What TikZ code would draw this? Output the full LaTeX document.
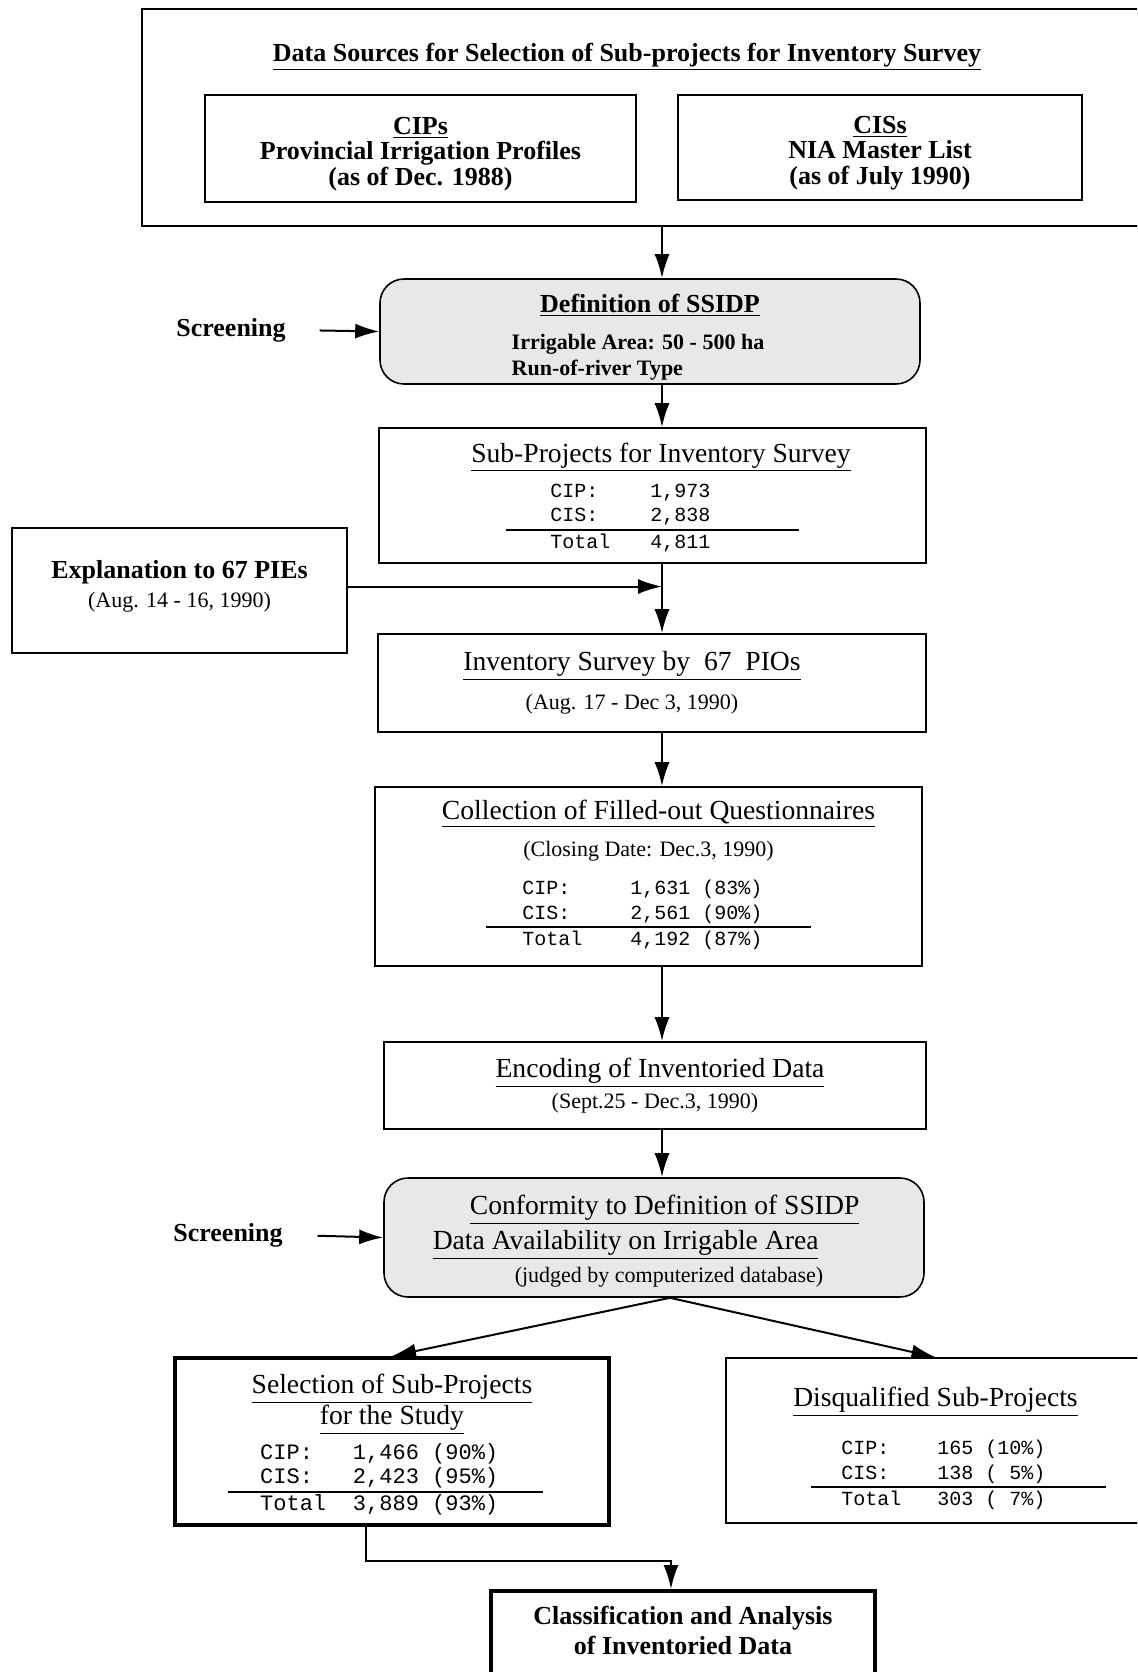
\documentclass[tikz,border=0pt]{standalone}
\usepackage{fontspec}
\setmainfont{Liberation Serif}
\setmonofont{Liberation Mono}
\usetikzlibrary{arrows.meta}
\setlength{\arrayrulewidth}{1pt}
\newcommand{\headfont}{\fontsize{13}{15}\selectfont}
\newcommand{\titlefont}{\fontsize{13.8}{15}\selectfont}
\newcommand{\subfont}{\fontsize{11}{13}\selectfont}
\newcommand{\topstrut}[1]{\rule{0pt}{#1}}
\newcommand{\botstrut}[1]{\rule[-#1]{0pt}{0pt}}
% CIP / CIS / Total counts: [font size], values, then left pad, column gap, right pad
\newcommand{\counttable}[7][10]{{\fontsize{#1}{12.3}\selectfont\ttfamily\begin{tabular}[t]{@{\hspace{#5}}l@{\hspace{#6}}l@{\hspace{#7}}}CIP: & #2\\CIS: & #3\\\hline Total & #4\end{tabular}}}

\begin{document}
\begin{tikzpicture}[x=0.5pt,y=-0.5pt,
  box/.style={draw,line width=0.8pt,align=center,inner sep=0pt,font=\subfont},
  thickbox/.style={box,line width=2pt},
  roundbox/.style={box,rounded corners=12pt,fill=black!9},
  arr/.style={line width=1pt,-{Latex[length=12pt,width=7.5pt]}}]
\clip (0,0) rectangle (1137,1672);
\coordinate (axis) at (662,0);

% data sources
\node[box,minimum width=509pt,minimum height=108.5pt] (sources) at (651,117.5) {};
\node[font=\headfont\bfseries] (srctitle) at (627,57) {\underline{Data Sources for Selection of Sub-projects for Inventory Survey}};
\node[box,font=\headfont\bfseries,minimum width=215.5pt,minimum height=53.5pt] (cips) at (420.5,148.5)
  {\topstrut{14pt}\underline{CIPs}\\[-2.2pt]Provincial Irrigation Profiles\\[-2.2pt](as of Dec. 1988)};
\node[box,font=\headfont\bfseries,minimum width=202pt,minimum height=52.5pt] (ciss) at (880,147.5)
  {\topstrut{14pt}\underline{CISs}\\[-2.2pt]NIA Master List\\[-2.2pt](as of July 1990)};

% first screening
\node[roundbox,minimum width=270pt,minimum height=52.5pt] (defn) at (650,331.5)
  {\topstrut{16.3pt}{\headfont\bfseries\underline{Definition of SSIDP}}\\[5.5pt]\begin{tabular}[t]{@{}l@{}}\bfseries Irrigable Area: 50 - 500 ha\hspace*{12pt}\\\bfseries Run-of-river Type\end{tabular}};
\node[font=\headfont\bfseries] (screen1) at (231,330) {Screening};

\node[box,minimum width=273.5pt,minimum height=67.5pt] (subs) at (652.5,495.5)
  {\topstrut{13.4pt}\hspace*{8.5pt}{\titlefont\underline{Sub-Projects for Inventory Survey}}\\[3pt]\counttable{1,973}{2,838}{4,811}{22pt}{20pt}{44pt}};
\node[box,minimum width=167.5pt,minimum height=62.5pt] (expl) at (179.5,590.5)
  {{\headfont\bfseries Explanation to 67 PIEs}\\[1.5pt](Aug. 14 - 16, 1990)\botstrut{7pt}};
\node[box,minimum width=274pt,minimum height=49pt] (inv) at (652,683)
  {{\titlefont\underline{Inventory Survey by~~67~~PIOs}}\hspace*{20pt}\\[6.5pt](Aug. 17 - Dec 3, 1990)\hspace*{20pt}};
\node[box,minimum width=273.5pt,minimum height=89.5pt] (coll) at (648.5,876.5)
  {\hspace*{10pt}{\titlefont\underline{Collection of Filled-out Questionnaires}}\\[5.5pt](Closing Date: Dec.3, 1990)\\[6pt]\counttable{1,631 (83\%)}{2,561 (90\%)}{4,192 (87\%)}{18pt}{24pt}{24pt}};
\node[box,minimum width=271pt,minimum height=43.5pt] (enc) at (655,1085.5)
  {\hspace*{5pt}{\titlefont\underline{Encoding of Inventoried Data}}\\[2.5pt](Sept.25 - Dec.3, 1990)};

% second screening
\node[roundbox,minimum width=270pt,minimum height=59.5pt] (conf) at (654,1237.5)
  {\topstrut{14.8pt}\hspace*{10.6pt}{\titlefont\underline{Conformity to Definition of SSIDP}}\\[1.8pt]\begin{tabular}[t]{@{}l@{}}{\titlefont\underline{Data Availability on Irrigable Area}}\\[3.5pt]\hspace*{41pt}(judged by computerized database)\hspace*{26pt}\end{tabular}};
\node[font=\headfont\bfseries] (screen2) at (228,1235) {Screening};

\node[thickbox,minimum width=217pt,minimum height=83.5pt] (sel) at (392,1441.5)
  {\topstrut{14.4pt}{\titlefont\underline{Selection of Sub-Projects}}\\[-0.5pt]{\titlefont\underline{for the Study}}\\[2.9pt]\counttable[11]{1,466 (90\%)}{2,423 (95\%)}{3,889 (93\%)}{16pt}{13.4pt}{22.4pt}\hspace*{6.4pt}};
\node[box,minimum width=209.5pt,minimum height=82.5pt] (disq) at (935.5,1440.5)
  {\topstrut{19.2pt}{\titlefont\underline{Disqualified Sub-Projects}}\\[9.5pt]\hspace*{23pt}\counttable{165 (10\%)}{138 ( 5\%)}{303 ( 7\%)}{15pt}{18pt}{30pt}};
\node[thickbox,font=\headfont\bfseries,anchor=north,minimum width=192pt,minimum height=48pt] (class) at (683,1589)
  {Classification and Analysis\\of Inventoried Data\botstrut{9.1pt}};

% connectors
\draw[arr] (sources.south -| axis) -- (defn.north -| axis);
\draw[arr,shorten <=13.5pt] (screen1.east) -- (defn.west);
\draw[arr] (defn.south -| axis) -- (subs.north -| axis);
\draw[arr] (subs.south -| axis) -- (inv.north -| axis);
\draw[arr] ([yshift=2pt]expl.east) -- ([yshift=2pt]expl.east -| axis);
\draw[arr] (inv.south -| axis) -- (coll.north -| axis);
\draw[arr] (coll.south -| axis) -- (enc.north -| axis);
\draw[arr] (enc.south -| axis) -- (conf.north -| axis);
\draw[arr,shorten <=14pt] (screen2.east) -- (conf.west);
\draw[arr] ([xshift=8pt]conf.south) -- (sel.north);
\draw[arr] ([xshift=8pt]conf.south) -- (disq.north);
\draw[arr] ([xshift=-13pt]sel.south) -- ++(0,34) -| ([xshift=-6pt]class.north);
\end{tikzpicture}
\end{document}
